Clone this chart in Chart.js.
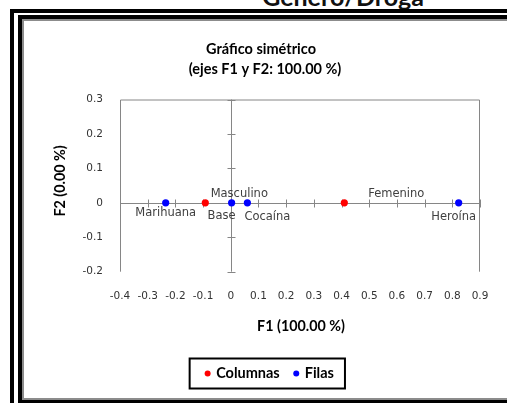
<!DOCTYPE html>
<html>
<head>
<meta charset="utf-8">
<script src="https://cdn.jsdelivr.net/npm/chart.js@4.4.1/dist/chart.umd.min.js"></script>
<style>
  html, body { margin: 0; padding: 0; background: #fff; }
  body { width: 507px; height: 403px; overflow: hidden; position: relative; }
  #heading { position: absolute; left: 200px; width: 286px; top: -18px; text-align: center;
             font: bold 25px Lato, sans-serif; line-height: 28px; color: #111; white-space: nowrap; }
  #frameOuter { position: absolute; left: 10px; top: 9px; width: 700px; height: 600px;
                border: 4px solid #000; background: #fff; }
  #frameInner { position: absolute; left: 18px; top: 15px; width: 700px; height: 381px;
                border: 4px solid #000; }
  #framePanel { position: absolute; left: 22px; top: 19px; width: 700px; height: 377px;
                border: 2px solid #8c8c8c; }
  #chart { position: absolute; left: 0; top: 0; z-index: 5; }
</style>
</head>
<body>
<div id="heading">Género/Droga</div>
<div id="frameOuter"></div>
<div id="frameInner"></div>
<div id="framePanel"></div>
<canvas id="chart" width="507" height="403"></canvas>
<script>
// Column profiles (gender)
const colLabels = ['Masculino', 'Femenino'];
const colF1 = [-0.092, 0.41];
const colF2 = [0, 0];

// Row profiles (drug)
const rowLabels = ['Marihuana', 'Base', 'Cocaína', 'Heroína'];
const rowF1 = [-0.235, 0.003, 0.06, 0.823];
const rowF2 = [0, 0, 0, 0];

// Axis ticks
const f1Ticks = [-0.4, -0.3, -0.2, -0.1, 0, 0.1, 0.2, 0.3, 0.4, 0.5, 0.6, 0.7, 0.8, 0.9];
const f2Ticks = [-0.2, -0.1, 0, 0.1, 0.2, 0.3];

const titleLines = ['Gráfico simétrico', '(ejes F1 y F2: 100.00 %)'];
const xTitle = 'F1 (100.00 %)';
const yTitle = 'F2 (0.00 %)';

// Where each point's name sits relative to its marker (px)
const labelOffsets = {
  'Masculino': [34, -9],
  'Femenino':  [52, -9],
  'Marihuana': [0, 10],
  'Base':      [-10, 13],
  'Cocaína':   [20, 14],
  'Heroína':   [-5, 14]
};

const fmt = v => (v === 0 ? '0' : v.toFixed(1));
const AXIS = '#868686';
const TEXT = '#333';

const decor = {
  id: 'decor',
  beforeDatasetsDraw(chart) {
    const { ctx, chartArea: a, scales: { x, y } } = chart;
    const x0 = x.getPixelForValue(0);
    const y0 = y.getPixelForValue(0);
    ctx.save();
    ctx.strokeStyle = AXIS;
    ctx.lineWidth = 1;
    ctx.beginPath();
    // plot frame: left, top, right
    ctx.moveTo(a.left + 0.5, a.bottom);
    ctx.lineTo(a.left + 0.5, a.top + 0.5);
    ctx.lineTo(a.right - 0.5, a.top + 0.5);
    ctx.lineTo(a.right - 0.5, a.bottom);
    // axes crossing at the origin
    const yz = Math.round(y0) + 0.5;
    const xz = Math.round(x0) + 0.5;
    ctx.moveTo(a.left, yz); ctx.lineTo(a.right, yz);
    ctx.moveTo(xz, a.top); ctx.lineTo(xz, a.bottom);
    f1Ticks.forEach(v => {
      const px = Math.round(x.getPixelForValue(v)) + 0.5;
      ctx.moveTo(px, yz - 4); ctx.lineTo(px, yz + 4);
    });
    f2Ticks.forEach(v => {
      const py = Math.round(y.getPixelForValue(v)) + 0.5;
      ctx.moveTo(xz - 4, py); ctx.lineTo(xz + 4, py);
    });
    ctx.stroke();
    ctx.restore();
  },
  afterDatasetsDraw(chart) {
    const { ctx } = chart;
    ctx.save();
    ctx.fillStyle = '#404040';
    ctx.textAlign = 'center';
    ctx.textBaseline = 'middle';
    chart.data.datasets.forEach((ds, di) => {
      const meta = chart.getDatasetMeta(di);
      ctx.font = '11.5px "DejaVu Sans", sans-serif';
      meta.data.forEach((pt, i) => {
        const name = ds.names[i];
        const off = labelOffsets[name] || [0, 10];
        ctx.fillText(name, pt.x + off[0], pt.y + off[1]);
      });
    });
    ctx.restore();
  },
  afterDraw(chart) {
    const { ctx, chartArea: a } = chart;
    ctx.save();
    ctx.fillStyle = '#000';
    ctx.textAlign = 'center';
    ctx.textBaseline = 'alphabetic';
    // chart title
    ctx.font = 'bold 14.5px Lato, sans-serif';
    ctx.fillText(titleLines[0], 261, 54);
    ctx.fillText(titleLines[1], 265, 74);
    // axis titles
    ctx.font = 'bold 14.3px Lato, sans-serif';
    ctx.fillText(xTitle, 301, 331);
    ctx.save();
    ctx.translate(65, 181);
    ctx.rotate(-Math.PI / 2);
    ctx.fillText(yTitle, 0, 0);
    ctx.restore();

    // legend
    ctx.font = 'bold 14.5px Lato, sans-serif';
    const items = chart.data.datasets.map(ds => ({
      label: ds.label, color: ds.backgroundColor, w: ctx.measureText(ds.label).width
    }));
    const dotR = 3, dotGap = 8.5, itemGap = 16.5, padL = 15, padR = 8;
    let content = 0;
    items.forEach((it, i) => { content += dotR + dotGap + it.w + (i < items.length - 1 ? itemGap - dotR : 0); });
    content += dotR;
    const boxW = padL + content + padR;
    const boxL = 267.3 - boxW / 2, boxT = 358.5, boxH = 30;
    ctx.strokeStyle = '#000';
    ctx.lineWidth = 2;
    ctx.strokeRect(boxL, boxT, boxW, boxH);
    const cy = boxT + boxH / 2;
    let cx = boxL + padL;
    ctx.textAlign = 'left';
    ctx.textBaseline = 'middle';
    items.forEach(it => {
      ctx.fillStyle = it.color;
      ctx.beginPath();
      ctx.arc(cx + dotR, cy, dotR, 0, Math.PI * 2);
      ctx.fill();
      ctx.fillStyle = '#000';
      ctx.fillText(it.label, cx + dotR + dotGap, cy);
      cx += dotR + dotGap + it.w + itemGap - dotR;
    });
    ctx.restore();
  }
};

new Chart(document.getElementById('chart'), {
  type: 'scatter',
  data: {
    datasets: [
      {
        label: 'Columnas',
        names: colLabels,
        data: colF1.map((v, i) => ({ x: v, y: colF2[i] })),
        backgroundColor: '#ff0000',
        borderWidth: 0,
        pointRadius: 3.6
      },
      {
        label: 'Filas',
        names: rowLabels,
        data: rowF1.map((v, i) => ({ x: v, y: rowF2[i] })),
        backgroundColor: '#0000ff',
        borderWidth: 0,
        pointRadius: 3.6
      }
    ]
  },
  plugins: [decor],
  options: {
    responsive: false,
    animation: false,
    devicePixelRatio: 1,
    layout: { padding: { left: 0, top: 99.5, right: 27, bottom: 91.3 } },
    plugins: { legend: { display: false }, title: { display: false }, tooltip: { enabled: false } },
    scales: {
      x: {
        type: 'linear',
        min: f1Ticks[0], max: f1Ticks[f1Ticks.length - 1],
        afterBuildTicks: s => { s.ticks = f1Ticks.map(v => ({ value: v })); },
        afterFit: s => { s.height = 40; },
        grid: { display: false, drawTicks: false },
        border: { display: false },
        ticks: {
          autoSkip: false, maxRotation: 0, minRotation: 0, padding: 18,
          color: TEXT, font: { family: '"DejaVu Sans", sans-serif', size: 10.5 },
          callback: v => fmt(v)
        }
      },
      y: {
        type: 'linear',
        min: f2Ticks[0], max: f2Ticks[f2Ticks.length - 1],
        afterBuildTicks: s => { s.ticks = f2Ticks.map(v => ({ value: v })); },
        afterFit: s => { s.width = 120; },
        grid: { display: false, drawTicks: false },
        border: { display: false },
        ticks: {
          autoSkip: false, padding: 17,
          color: TEXT, font: { family: '"DejaVu Sans", sans-serif', size: 10.5 },
          callback: v => fmt(v)
        }
      }
    }
  }
});
</script>
</body>
</html>
